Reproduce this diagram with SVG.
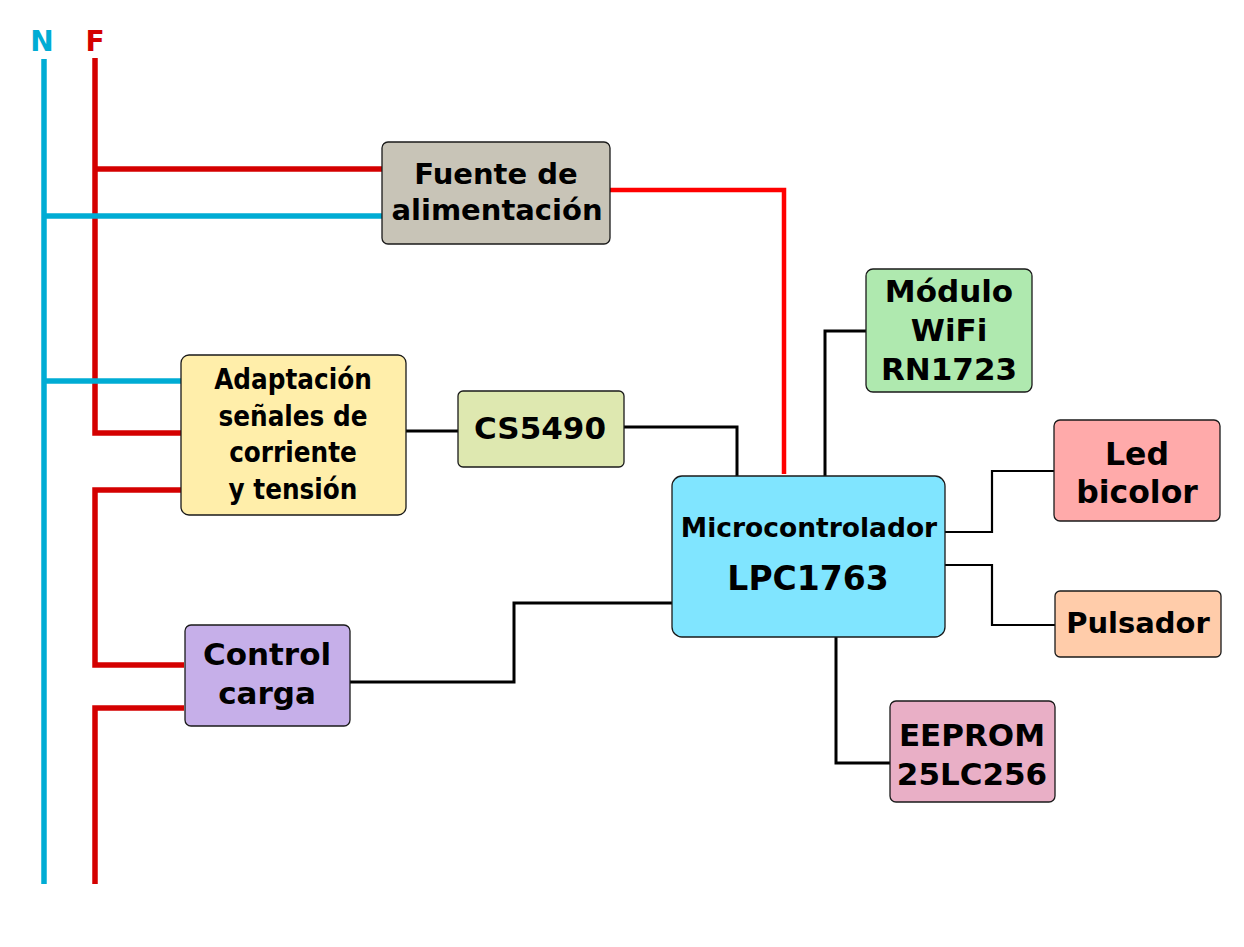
<svg xmlns="http://www.w3.org/2000/svg" width="1244" height="947" viewBox="0 0 1244 947">
<style>
.box{stroke:#1a1a1a;stroke-width:1.3}
.t{font-family:"DejaVu Sans",sans-serif;font-weight:bold;text-anchor:middle;fill:#000}
.tc{font-family:"DejaVu Sans Condensed","DejaVu Sans",sans-serif;font-stretch:condensed;font-weight:bold;text-anchor:middle;fill:#000}
.n{fill:none;stroke:#00acd4;stroke-width:5.5}
.f{fill:none;stroke:#d40000;stroke-width:5.5}
.k{fill:none;stroke:#000;stroke-width:3}
.k2{fill:none;stroke:#000;stroke-width:2.2}
</style>
<rect width="1244" height="947" fill="#fff"/>
<g id="connectors">
<path class="n" d="M44 59V884"/>
<path class="f" d="M95 58V433H181"/>
<path class="f" d="M181 490H95V665H184"/>
<path class="f" d="M184 708H95V884"/>
<path class="f" d="M97 169H382"/>
<path class="n" d="M44 216H382"/>
<path class="n" d="M44 381H181"/>
<path d="M610 190H784V474" fill="none" stroke="#ff0000" stroke-width="4.5"/>
<path class="k" d="M406 431H458"/>
<path class="k" d="M624 427H737V476"/>
<path class="k" d="M825 476V331H866"/>
<path class="k2" d="M945 532H992V471H1054"/>
<path class="k2" d="M945 565H992V625H1055"/>
<path class="k" d="M836 637V763H890"/>
<path class="k" d="M350 682H514V603H672"/>
</g>
<g id="labels">
<text x="42" y="51" class="t" font-size="28" style="fill:#00acd4">N</text>
<text x="95" y="51" class="t" font-size="28" style="fill:#d40000">F</text>
</g>
<g id="fuente">
<rect class="box" x="382" y="142" width="228" height="102" rx="6" fill="#c8c4b7"/>
<text class="t" x="496" y="184" font-size="29">Fuente de</text>
<text class="t" x="497" y="220" font-size="29">alimentación</text>
</g>
<g id="adaptacion">
<rect class="box" x="181" y="355" width="225" height="160" rx="8" fill="#ffeeaa"/>
<text class="tc" x="293" y="389" font-size="27.5">Adaptación</text>
<text class="tc" x="293" y="426" font-size="27.5">señales de</text>
<text class="tc" x="293" y="462" font-size="27.5">corriente</text>
<text class="tc" x="293" y="499" font-size="27.5">y tensión</text>
</g>
<g id="cs5490">
<rect class="box" x="458" y="391" width="166" height="76" rx="5" fill="#dee8b0"/>
<text class="t" x="540" y="439" font-size="31">CS5490</text>
</g>
<g id="micro">
<rect class="box" x="672" y="476" width="273" height="161" rx="10" fill="#80e5ff"/>
<text class="t" x="809" y="537" font-size="26.5">Microcontrolador</text>
<text class="t" x="808" y="590" font-size="33">LPC1763</text>
</g>
<g id="wifi">
<rect class="box" x="866" y="269" width="166" height="123" rx="7" fill="#afe9af"/>
<text class="t" x="949" y="302" font-size="31">Módulo</text>
<text class="t" x="949" y="341" font-size="31">WiFi</text>
<text class="t" x="949" y="380" font-size="31">RN1723</text>
</g>
<g id="led">
<rect class="box" x="1054" y="420" width="166" height="101" rx="6" fill="#ffaaaa"/>
<text class="t" x="1137" y="465" font-size="31.5">Led</text>
<text class="t" x="1137" y="503" font-size="31.5">bicolor</text>
</g>
<g id="pulsador">
<rect class="box" x="1055" y="591" width="166" height="66" rx="5" fill="#ffccaa"/>
<text class="t" x="1138" y="633" font-size="29">Pulsador</text>
</g>
<g id="eeprom">
<rect class="box" x="890" y="701" width="165" height="101" rx="6" fill="#e9afc6"/>
<text class="t" x="972" y="746" font-size="31">EEPROM</text>
<text class="t" x="972" y="785" font-size="31">25LC256</text>
</g>
<g id="control">
<rect class="box" x="185" y="625" width="165" height="101" rx="6" fill="#c6afe9"/>
<text class="t" x="267" y="665" font-size="31">Control</text>
<text class="t" x="267" y="704" font-size="31">carga</text>
</g>
</svg>
